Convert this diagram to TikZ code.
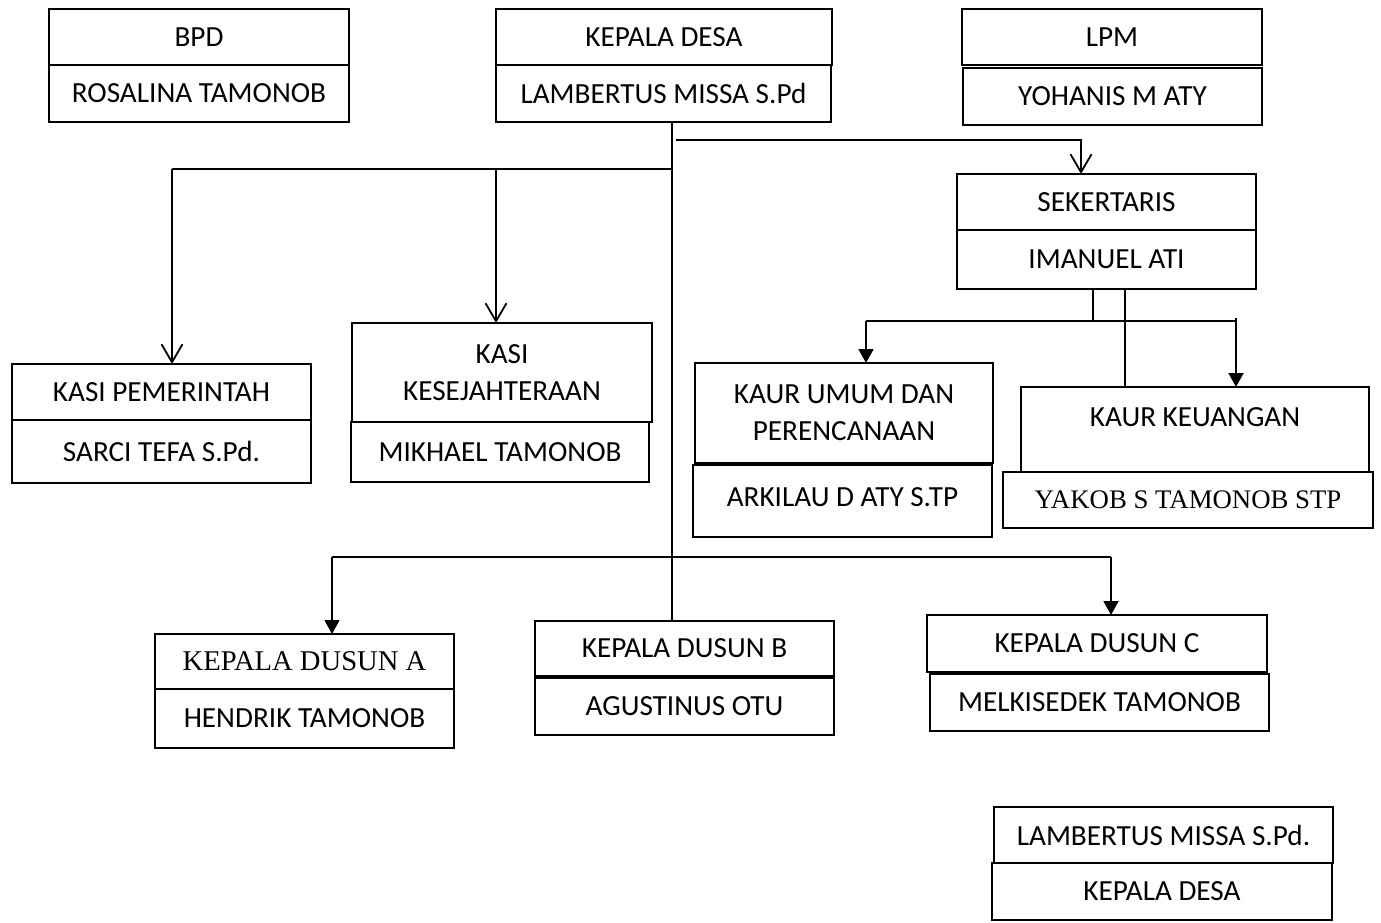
\documentclass[tikz,border=0pt]{standalone}
\usepackage{fontspec}
\setmainfont{Carlito}
\newfontfamily\tnr{Liberation Serif}
\usetikzlibrary{arrows.meta}
\begin{document}
\begin{tikzpicture}[x=0.5pt,y=-0.5pt,
  box/.style={draw, line width=0.9pt, inner sep=0pt, outer sep=0pt, align=center,
    font=\fontsize{14.6}{18.5}\selectfont},
  sz/.style 2 args={minimum width=#1*0.5pt, minimum height=#2*0.5pt},
  link/.style={line width=0.9pt},
  oarrow/.style={link, -{Straight Barb[length=9pt,width=10.5pt,line width=0.9pt]}},
  farrow/.style={link, -{Triangle[length=7pt,width=7.5pt]}},
  lbl/.style={inner sep=0pt, font=\fontsize{14.6}{18.5}\selectfont}]
\useasboundingbox (0,0) rectangle (1381,922);
% top row
\node[box, sz={300}{56}] (bpd) at (199,37) {BPD};
\node[box, sz={300}{57}] (bpdn) at (199,93.5) {ROSALINA TAMONOB};
\node[box, sz={336}{56}] (kd) at (664,37) {KEPALA DESA};
\node[box, sz={335}{57}] (kdn) at (663.5,93.5) {LAMBERTUS MISSA S.Pd};
\node[box, sz={300}{56}] (lpm) at (1112,37) {LPM};
\node[box, sz={299}{57}] (lpmn) at (1112.5,96.5) {YOHANIS M ATY};
% sekertaris
\node[box, sz={299}{56}] (sek) at (1106.5,202) {SEKERTARIS};
\node[box, sz={299}{59}] (sekn) at (1106.5,259.5) {IMANUEL ATI};
% kasi
\node[box, sz={299}{56}] (kp) at (161.5,392) {KASI PEMERINTAH};
\node[box, sz={299}{63}] (kpn) at (161.5,451.5) {SARCI TEFA S.Pd.};
\node[box, sz={300}{99}] (ks) at (502,372.5) {KASI\\KESEJAHTERAAN};
\node[box, sz={298}{60}] (ksn) at (500,452) {MIKHAEL TAMONOB};
% kaur
\node[box, sz={298}{100}] (ku) at (844,413) {KAUR UMUM DAN\\PERENCANAAN};
\node[box, sz={299}{72}] (kun) at (842.5,501) {};
\node[lbl] at (842.5,497) {ARKILAU D ATY S.TP};
\node[box, sz={348}{85}] (kk) at (1195,429.5) {};
\node[lbl] at (1195,417) {KAUR KEUANGAN};
\node[box, sz={370}{56}, font=\tnr\fontsize{13.4}{16}\selectfont] (kkn) at (1188,500) {YAKOB S TAMONOB STP};
% dusun
\node[box, sz={299}{55}, font=\tnr\fontsize{14.3}{16}\selectfont] (da) at (304.5,661.5) {KEPALA DUSUN A};
\node[box, sz={299}{59}] (dan) at (304.5,718.5) {HENDRIK TAMONOB};
\node[box, sz={299}{55}] (db) at (684.5,648.5) {KEPALA DUSUN B};
\node[box, sz={299}{57}] (dbn) at (684.5,706.5) {AGUSTINUS OTU};
\node[box, sz={340}{57}] (dc) at (1097,643.5) {KEPALA DUSUN C};
\node[box, sz={339}{57}] (dcn) at (1099.5,702.5) {MELKISEDEK TAMONOB};
% signature
\node[box, sz={339}{56}] (lm) at (1163.5,835) {LAMBERTUS MISSA S.Pd.};
\node[box, sz={340}{57}] (lmn) at (1162,891.5) {KEPALA DESA};
% connectors
\coordinate (T) at (672,169);
\coordinate (L1) at (172,169);
\coordinate (L2) at (496,169);
\draw[link] (kdn.south -| T) -- (db.north -| T);
\draw[link] (T) -- (L1);
\draw[oarrow] (L1) -- (L1 |- kp.north);
\draw[oarrow] (L2) -- (L2 |- ks.north);
\coordinate (R0) at (676,140);
\coordinate (R1) at (1081,140);
\draw[oarrow] (R0) -- (R1) -- (R1 |- sek.north);
\coordinate (S1) at (1093,321);
\coordinate (S2) at (866,321);
\coordinate (S3) at (1236,321);
\coordinate (S4) at (1125,321);
\draw[link] (sekn.south -| S1) -- (S1);
\draw[link] (S2) -- (S3);
\draw[farrow] (S2) -- (S2 |- ku.north);
\draw[farrow] ([yshift=1.5pt]S3) -- (S3 |- kk.north);
\draw[link] (sekn.south -| S4) -- (kk.north -| S4);
\coordinate (D1) at (332,557);
\coordinate (D2) at (1111,557);
\draw[link] (D1) -- (D2);
\draw[farrow] (D1) -- (D1 |- da.north);
\draw[farrow] (D2) -- (D2 |- dc.north);
\end{tikzpicture}
\end{document}
